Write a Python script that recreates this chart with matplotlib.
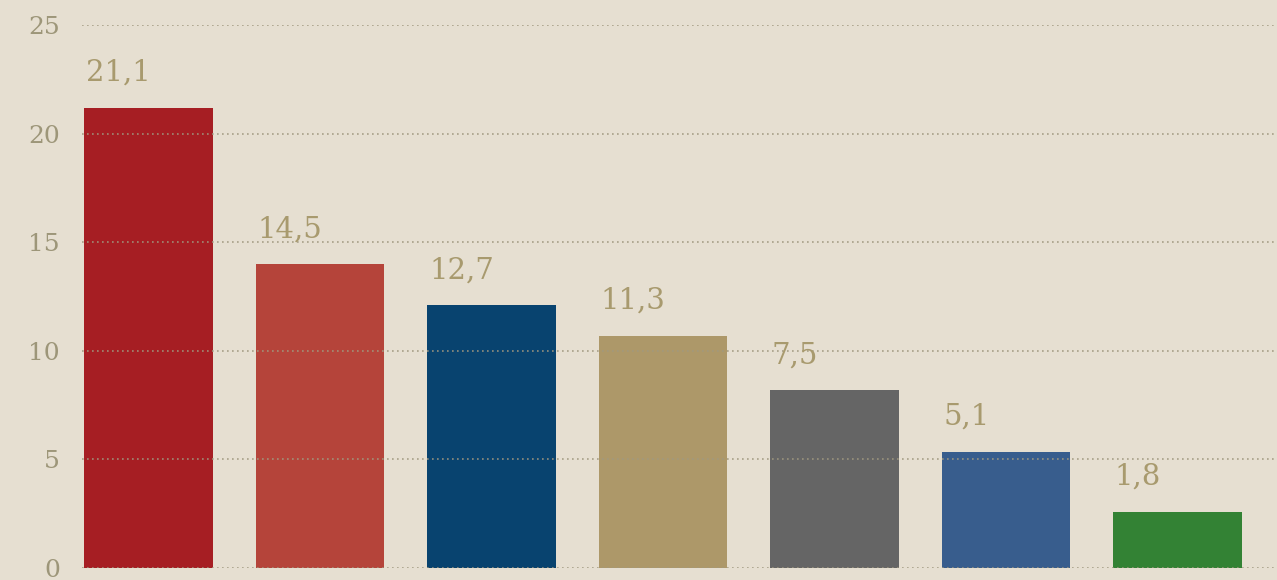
import numpy as np
import matplotlib
matplotlib.use("Agg")
import matplotlib.pyplot as plt

# bar heights as drawn in the picture, and the printed labels
heights = [21.2, 14.0, 12.1, 10.7, 8.2, 5.35, 2.6]
labels = ["21,1", "14,5", "12,7", "11,3", "7,5", "5,1", "1,8"]
colors = ["#A61E23", "#B5443A", "#08436F", "#AD9869", "#656565", "#385D8D", "#338234"]
yticks = [0, 5, 10, 15, 20, 25]

BG = "#E6DFD1"
fig = plt.figure(figsize=(12.77, 5.8), dpi=100, facecolor=BG)
ax = fig.add_axes([82/1277, 12/580, 1 - 82/1277, 543/580], facecolor=BG)

x = np.arange(len(heights))
w = 0.75
ax.bar(x, heights, w, color=colors, zorder=1)
ax.set_xlim(-0.388, 6.58)
ax.set_ylim(0, 25)

for yv in yticks:
    ax.axhline(yv, color="#A0987F", lw=1.2, ls=(0, (1, 2)), zorder=2, alpha=0.9)

for xi, h, lab in zip(x, heights, labels):
    ax.text(xi - w/2 + 0.01, h + 1.6, lab, ha="left", va="center",
            fontsize=21, color="#A89A6E", family="DejaVu Serif")

ax.set_yticks(yticks)
ax.set_yticklabels([str(v) for v in yticks], fontsize=18, color="#9D9679",
                   family="DejaVu Serif")
ax.tick_params(axis="y", length=0, pad=16)
ax.set_xticks([])
for s in ax.spines.values():
    s.set_visible(False)

fig.savefig("out.png", dpi=100, facecolor=BG)
